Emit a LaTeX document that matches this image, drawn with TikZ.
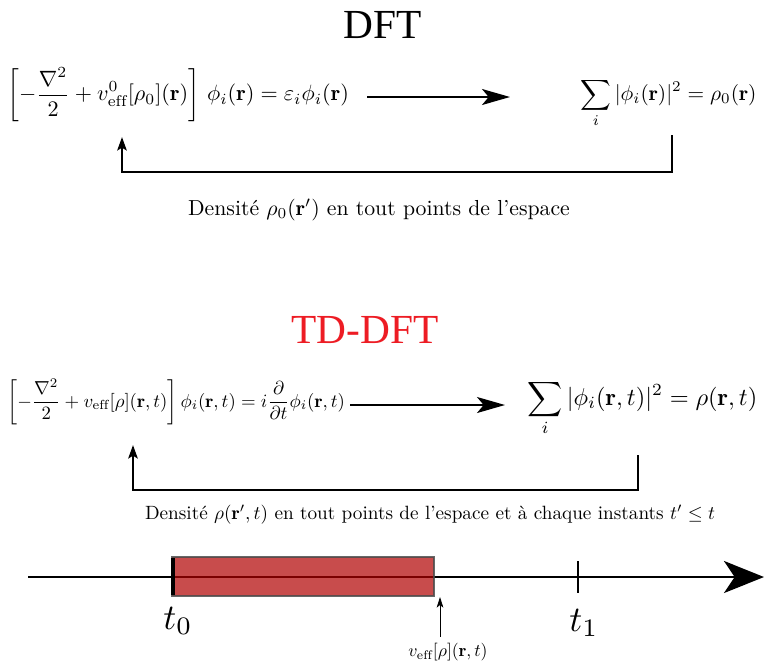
\documentclass[tikz,border=0pt]{standalone}
\usepackage{amsmath}
\usepackage{amssymb}
\usepackage{fontspec}
\newfontfamily\titlefont{Liberation Serif}
\usetikzlibrary{positioning,arrows.meta}
\definecolor{tdred}{rgb}{0.93, 0.11, 0.14}
\definecolor{barred}{rgb}{0.69, 0, 0}

\begin{document}
\begin{tikzpicture}[x=0.75pt,y=-0.75pt,
    loop/.style={line width=2.2pt, -{Stealth[length=10pt,width=7pt,inset=2pt]}},
    flow/.style={line width=1.3pt, -{Stealth[length=21pt,width=12pt,inset=5pt]}},
    eqn/.style={anchor=west, inner sep=0pt},
    title/.style={scale=3.1, font=\titlefont}]
\useasboundingbox (0,0) rectangle (766,668);

% --- DFT ---
\node[title] (dft) at (383,25) {DFT};
\node[eqn, scale=1.66] (ks) at (7,95) {$\displaystyle\left[-\frac{\nabla^2}{2}+v^0_{\mathrm{eff}}[\rho_0](\mathbf{r})\right]\,\phi_i(\mathbf{r})=\varepsilon_i\phi_i(\mathbf{r})$};
\node[eqn, scale=1.6] (dens) at (580,103) {$\displaystyle\sum_i|\phi_i(\mathbf{r})|^2=\rho_0(\mathbf{r})$};
\node[scale=1.63] (cap) at (379,210) {Densit\'e $\rho_0(\mathbf{r}')$ en tout points de l'espace};

\coordinate (a1) at (367,97);
\coordinate (b1) at (510,97);
\coordinate (u1) at (672,135);
\coordinate (d1) at (122,137);
\draw[flow] (a1) -- (b1);
\draw[loop] (u1) -- (u1 |- 0,172) -- (d1 |- 0,172) -- (d1);

% --- TD-DFT ---
\node[title, text=tdred] (tddft) at (365,330) {TD-DFT};
\node[eqn, scale=1.41] (tdks) at (7,402) {$\displaystyle\left[-\frac{\nabla^2}{2}+v_{\mathrm{eff}}[\rho](\mathbf{r},t)\right]\phi_i(\mathbf{r},t)=i\frac{\partial}{\partial t}\phi_i(\mathbf{r},t)$};
\node[eqn, scale=1.83] (tddens) at (527,408) {$\displaystyle\sum_i|\phi_i(\mathbf{r},t)|^2=\rho(\mathbf{r},t)$};
\node[scale=1.44] (tdcap) at (430,515) {Densit\'e\ $\rho(\mathbf{r}',t)$\ en tout points de l'espace et \`a chaque instants $t'\leq t$};

\coordinate (a2) at (350,405);
\coordinate (b2) at (505,405);
\coordinate (u2) at (638,455);
\coordinate (d2) at (133,445);
\draw[flow] (a2) -- (b2);
\draw[loop] (u2) -- (u2 |- 0,490) -- (d2 |- 0,490) -- (d2);

% --- time axis ---
\coordinate (ax0) at (28,577);
\coordinate (ax1) at (764,577);
\draw[line width=2.2pt, -{Stealth[length=30pt,width=24pt,inset=8pt]}] (ax0) -- (ax1);
\node[draw=black!70, line width=2.2pt, fill=barred, fill opacity=0.7, draw opacity=0.85, minimum width=196.5pt, minimum height=29.25pt, inner sep=0pt] (win) at (303,576.5) {};
\draw[line width=2.4pt] (173,558) -- (173,595);
\draw[line width=1.6pt] (578,561) -- (578,593);
\node[scale=2.7] (t0) at (178,621) {$t_0$};
\node[scale=2.7] (t1) at (584,623) {$t_1$};
\node[scale=1.33] (veff) at (448,652) {$v_{\mathrm{eff}}[\rho](\mathbf{r},t)$};
\coordinate (vtip) at (440,597);
\draw[line width=0.6pt, -{Stealth[length=8pt,width=5pt,inset=2pt]}] (vtip |- veff.north) -- (vtip);
\end{tikzpicture}
\end{document}
